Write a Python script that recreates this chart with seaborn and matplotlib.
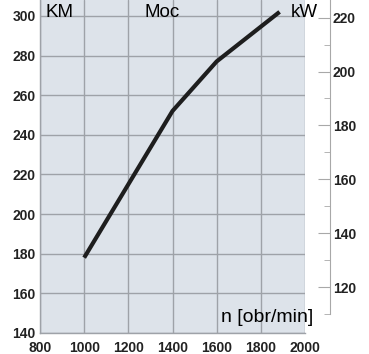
import matplotlib
matplotlib.use("Agg")
import matplotlib.pyplot as plt
import seaborn as sns
import numpy as np

# obroty silnika i moc w KM
rpm = [1000, 1400, 1600, 1885]
km = [178, 252, 277, 302]

x_ticks = [800, 1000, 1200, 1400, 1600, 1800, 2000]
km_ticks = [140, 160, 180, 200, 220, 240, 260, 280, 300]
kw_ticks = [120, 140, 160, 180, 200, 220]
kw_per_km = 0.7355

sns.set_style("whitegrid", {"axes.facecolor": "#dde3ea", "grid.color": "#9ea2a8",
                            "axes.edgecolor": "#9ea2a8"})
plt.rcParams['font.family'] = ['Liberation Sans', 'DejaVu Sans']

fig = plt.figure(figsize=(3.69, 3.54), dpi=100)
ax = fig.add_axes([40/369, 1 - 333/354, 265/369, 333/354])

sns.lineplot(x=rpm, y=km, ax=ax, color='#1e1e1e', linewidth=3, solid_capstyle='butt')

ax.set_xlim(800, 2000)
ax.set_ylim(140, 308)
ax.set_xticks(x_ticks)
ax.set_yticks(km_ticks)
ax.grid(True, color='#9ea2a8', linewidth=1)
ax.tick_params(axis='both', length=0, labelsize=10)
ax.tick_params(axis='x', pad=6)
ax.tick_params(axis='y', pad=3)
for lab in ax.get_xticklabels() + ax.get_yticklabels():
    lab.set_fontweight('bold')
    lab.set_color('#222222')
for s in ['top', 'right']:
    ax.spines[s].set_visible(False)
for s in ['left', 'bottom']:
    ax.spines[s].set_color('#9ea2a8')
    ax.spines[s].set_linewidth(1)
ax.set_xlabel('')
ax.set_ylabel('')

# druga oś: kW
ax2 = ax.twinx()
ax2.set_ylim(140 * kw_per_km, 308 * kw_per_km)
ax2.set_yticks(kw_ticks)
ax2.set_yticks(np.arange(110, 221, 10), minor=True)
ax2.grid(False)
for s in ['top', 'left', 'bottom']:
    ax2.spines[s].set_visible(False)
ax2.spines['right'].set_position(('outward', 18))
ax2.spines['right'].set_bounds(110, 308 * kw_per_km)
ax2.spines['right'].set_color('#a8a8a8')
ax2.tick_params(axis='y', which='major', direction='in', length=9, color='#a8a8a8',
                labelsize=10, pad=2)
ax2.tick_params(axis='y', which='minor', direction='in', length=4.5, color='#a8a8a8')
for lab in ax2.get_yticklabels():
    lab.set_fontweight('bold')
    lab.set_color('#222222')

ax.text(0.02, 0.962, 'KM', transform=ax.transAxes, fontsize=13.5, va='center', ha='left',
        color='black')
ax.text(0.395, 0.962, 'Moc', transform=ax.transAxes, fontsize=13.5, va='center', ha='left',
        color='black')
ax.text(0.945, 0.962, 'kW', transform=ax.transAxes, fontsize=13.5, va='center', ha='left',
        color='black', clip_on=False, zorder=5)
ax.text(1.03, 0.048, 'n [obr/min]', transform=ax.transAxes, fontsize=14, va='center',
        ha='right', color='black', clip_on=False, zorder=5)

fig.savefig('out.png', dpi=100)
